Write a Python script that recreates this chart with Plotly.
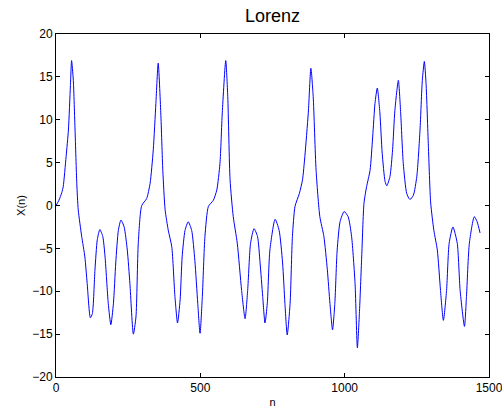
import plotly.graph_objects as go

n_vals = [0, 10, 20, 25, 35, 43, 50, 54, 60, 66, 72, 77, 89, 100, 108, 119, 126, 135, 143, 152,
          162, 170, 181, 190, 199, 207, 216, 225, 236, 247, 256, 268, 277, 285, 297, 314, 326, 337,
          346, 354, 363, 370, 378, 389, 401, 412, 421, 430, 437, 447, 458, 470, 481, 491, 499, 507,
          516, 528, 545, 557, 568, 576, 588, 595, 603, 614, 628, 643, 655, 664, 674, 686, 698, 707,
          716, 724, 732, 741, 759, 773, 785, 793, 801, 811, 819, 828, 843, 854, 862, 874, 883, 891,
          901, 914, 928, 940, 949, 958, 966, 974, 984, 998, 1012, 1024, 1036, 1044, 1051, 1059,
          1067, 1076, 1088, 1097, 1105, 1113, 1122, 1130, 1140, 1146, 1157, 1166, 1174, 1186,
          1194, 1203, 1215, 1226, 1238, 1250, 1261, 1269, 1276, 1282, 1290, 1298, 1309, 1321,
          1332, 1342, 1353, 1362, 1375, 1390, 1400, 1415, 1422, 1432, 1449, 1459, 1469]
x_vals = [0.0, 0.6, 1.5, 2.2, 5.7, 8.8, 14.0, 16.9, 14.6, 8.8, 2.6, -0.5, -3.6, -6.0, -9.1, -13.1,
          -12.6, -7.5, -4.0, -2.8, -3.6, -6.0, -11.4, -13.9, -11.4, -6.7, -2.9, -1.7, -2.5, -5.2,
          -9.1, -15.0, -13.0, -4.4, 0.0, 0.8, 2.6, 6.5, 11.9, 16.6, 10.8, 4.1, -0.5, -2.9, -4.8,
          -10.6, -13.7, -11.0, -6.0, -2.9, -1.9, -2.9, -6.4, -11.4, -14.9, -10.6, -3.6, -0.1, 0.6,
          1.8, 4.9, 10.8, 16.9, 12.7, 3.0, -1.3, -4.4, -9.9, -13.2, -9.9, -4.4, -2.7, -3.6, -6.7,
          -10.6, -13.7, -11.4, -5.2, -1.6, -2.9, -6.7, -11.4, -15.1, -11.4, -3.6, -0.1, 1.4, 3.0,
          5.7, 10.8, 16.0, 12.7, 4.1, -1.3, -3.6, -7.5, -11.4, -14.5, -11.4, -5.2, -1.9, -0.7,
          -1.3, -3.6, -9.1, -16.6, -12.6, -6.0, 0.3, 2.2, 4.1, 8.0, 11.9, 13.7, 10.8, 6.1, 2.8,
          2.3, 3.4, 6.5, 11.1, 14.6, 10.8, 4.9, 1.4, 0.7, 1.2, 3.4, 8.8, 14.6, 16.8, 14.2, 6.9,
          0.3, -2.9, -5.2, -9.9, -13.4, -9.9, -4.4, -2.5, -4.4, -9.9, -14.1, -10.6, -4.4, -1.3,
          -1.9, -3.2]

x_ticks = [0, 500, 1000, 1500]
y_ticks = [-20, -15, -10, -5, 0, 5, 10, 15, 20]

FONT = "Liberation Sans, Arial"

fig = go.Figure()
fig.add_trace(go.Scatter(x=n_vals, y=x_vals, mode="lines",
                         line=dict(color="#0000FF", width=1, shape="spline", smoothing=0.6),
                         showlegend=False, hoverinfo="skip"))

axis_common = dict(showline=True, linecolor="black", linewidth=1, mirror="ticks",
                   ticks="inside", ticklen=4, tickcolor="black", showgrid=False,
                   zeroline=False, automargin=False, ticklabeloverflow="allow",
                   tickfont=dict(family=FONT, size=12, color="black"))

fig.update_layout(
    width=502, height=408,
    margin=dict(l=56, r=13, t=34, b=31),
    paper_bgcolor="white", plot_bgcolor="white",
    title=dict(text="Lorenz", x=0.543, xref="container", xanchor="center",
               y=1 - 16 / 408, yref="container", yanchor="middle", automargin=False,
               font=dict(family=FONT, size=18, color="black")),
    xaxis=dict(range=[0, 1500], tickvals=x_ticks,
               title=dict(text="n", standoff=3, font=dict(family=FONT, size=11, color="black")),
               **axis_common),
    yaxis=dict(range=[-20, 20], tickvals=y_ticks,
               title=dict(text="X(n)", standoff=4, font=dict(family=FONT, size=11, color="black")),
               **axis_common),
)

fig.write_html("out.html",
               config={"displayModeBar": False},
               post_script="document.body.style.margin='0';document.body.style.padding='0';")
